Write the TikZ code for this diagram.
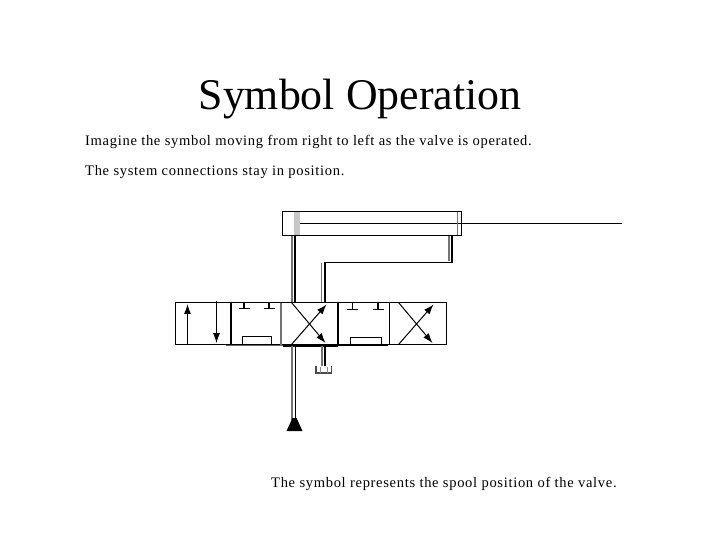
\documentclass[tikz,border=0pt]{standalone}
\usepackage{fontspec}
\setmainfont{Liberation Serif}
\newfontfamily\spacedfont[LetterSpace=4.7]{Liberation Serif}
\usetikzlibrary{arrows.meta}
\begin{document}
\begin{tikzpicture}[
                x=1bp, y=-1bp,
                line join=miter,
                title/.style={anchor=base, inner sep=0pt, font=\fontsize{44}{50}\selectfont},
                caption/.style={anchor=base west, inner sep=0pt, font=\spacedfont\fontsize{14.6}{16}\selectfont},
                box/.style={draw=black, line width=1.2pt, fill=white, anchor=north west, inner sep=0pt, outer sep=0pt},
                edge/.style={draw=black, line width=1.2pt},
                greyedge/.style={draw=black!55, line width=1.2pt},
                flow/.style={-{Latex[length=10pt,width=7pt]}, draw=black, line width=1pt},
                stopbar/.style={draw=black, line width=1.1pt}
            ]
                \useasboundingbox (0,0) rectangle (720,540);
                \node[title] (heading) at (360,110) {Symbol Operation};
                \node[caption] (lineA) at (85,146) {Imagine the symbol moving from right to left as the valve is operated.};
                \node[caption] (lineB) at (85,175.5) {The system connections stay in position.};
                \node[caption] (lineC) at (271,487) {The symbol represents the spool position of the valve.};

                % cylinder and rod
                \node[box, minimum width=179bp, minimum height=24bp] (cyl) at (282.5,211.5) {};
                \fill[black!22] (294,212) rectangle (300,235);
                \draw[edge] (300,223.5) -- (622,223.5);
                \draw[greyedge, line width=0.9pt] (457.5,212) -- (457.5,235);

                % pipes to the valve
                \draw[greyedge] (292,236) -- (292,302);
                \draw[edge, line width=1.6pt] (295,236) -- (295,302);
                \draw[greyedge] (449,236) -- (449,261);
                \draw[edge, line width=1.7pt] (452,236) -- (452,262.5) -- (325,262.5) -- (325,302);
                \draw[greyedge] (321.5,263) -- (321.5,302);

                % valve cells
                \node[box, minimum width=162bp, minimum height=42bp] (valveL) at (175.5,302.5) {};
                \node[box, minimum width=108bp, minimum height=42bp] (valveR) at (338.5,302.5) {};
                \draw[edge, line width=1.6pt] (231,302.5) -- (231,344.5);
                \draw[greyedge, line width=1.3pt] (281,302.5) -- (281,344.5);
                \draw[edge, line width=0.8pt] (389.5,302.5) -- (389.5,344.5);

                % cell one arrows
                \draw[flow, line width=1.1pt] (187.5,344.5) -- (187.5,304);
                \draw[flow, line width=0.8pt] (216.5,301) -- (216.5,343);

                % stops and ports
                \foreach \xs/\ys in {244/308.5,269/308.5,352.5/309.5,378/309.5} {
                    \draw[stopbar] (\xs,303) -- (\xs,\ys);
                    \draw[stopbar] (\xs-5.5,\ys) -- (\xs+5.5,\ys);
                }
                \draw[edge, line width=0.9pt] (242.5,344.5) |- (271.5,336.5) -- (271.5,344.5);
                \draw[edge, line width=0.9pt] (350.5,344.5) |- (381,337.5) -- (381,344.5);

                % crossed arrows
                \foreach \xa in {291.5,398.5} {
                    \draw[flow] (\xa,302.5) -- (\xa+34,343);
                    \draw[flow] (\xa,344.5) -- (\xa+35,304.5);
                }

                % lower edge
                \draw[draw=black!60, line width=1.2pt] (225.5,345.5) -- (283,345.5);
                \draw[edge, line width=2.4pt] (283,345.5) -- (338,345.5);
                \draw[edge, line width=1pt] (338,345.5) -- (387.5,345.5);

                % pump and tank lines
                \draw[greyedge] (292,346) -- (292,420);
                \draw[edge, line width=1.6pt] (295.5,346) -- (295.5,420);
                \fill[black] (292.5,418) -- (286.5,431) -- (302.5,431) -- (296.5,418) -- cycle;
                \draw[greyedge] (322,346) -- (322,366);
                \draw[edge, line width=1.7pt] (325,346) -- (325,366);
                \draw[draw=black!70, line width=1.1pt] (316,366) |- (331.5,373) -- (331.5,366);
                \draw[draw=black!45, line width=1pt] (320,367) -- (320,373) (327,367) -- (327,373);
            \end{tikzpicture}
\end{document}
